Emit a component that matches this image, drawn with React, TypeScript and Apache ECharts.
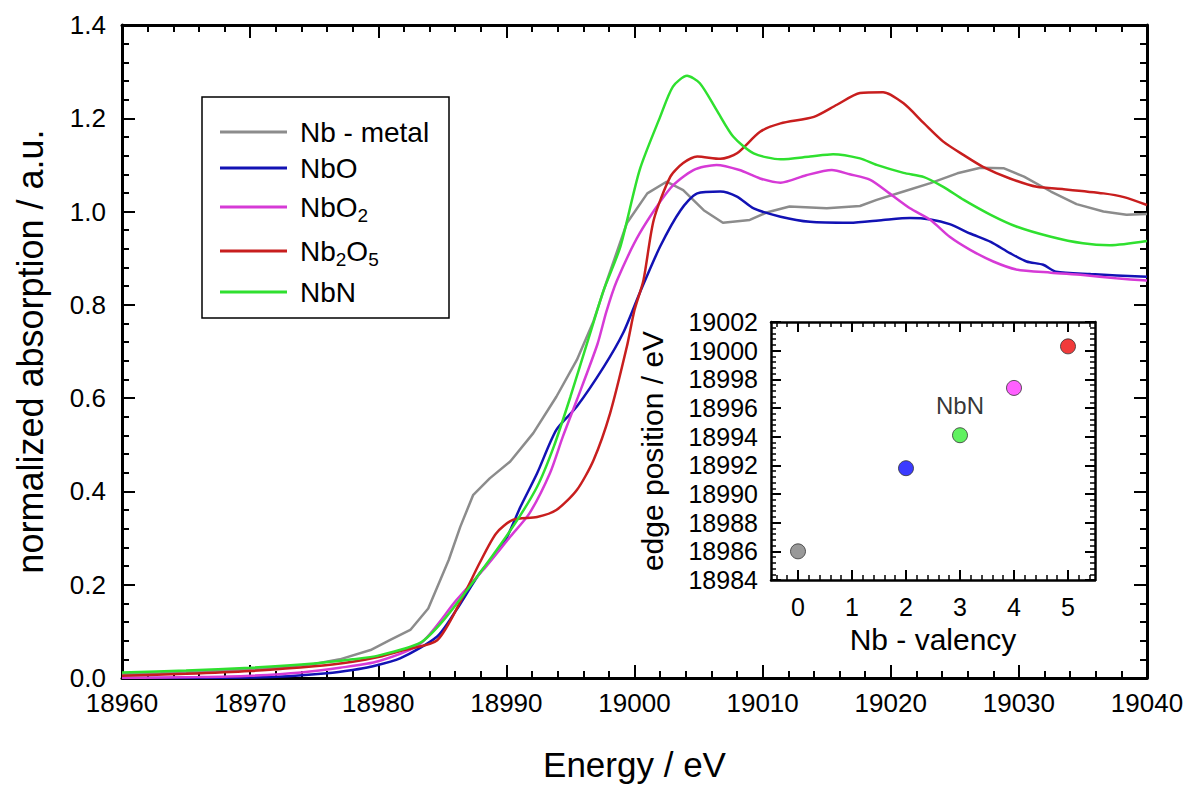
import React, { useEffect, useRef } from "react";
import * as echarts from "echarts";

const FONT = "'Liberation Sans', Arial, Helvetica, sans-serif";

// ---- main chart data ----
const seriesNames = ["Nb - metal", "NbO", "NbO2", "Nb2O5", "NbN"];
const legendLabels = ["Nb - metal", "NbO", "NbO{s|2}", "Nb{s|2}O{s|5}", "NbN"];
const seriesColors = ["#8c8c8c", "#1212b4", "#d63ad6", "#c81e1e", "#2fe02f"];

const metalE = [18960, 18963, 18966, 18969, 18972, 18975, 18977, 18979.4, 18980.9, 18982.5, 18983.9, 18985.5, 18986.4, 18987.4, 18988.7, 18990.3, 18992.1, 18993.9, 18995.5, 18996.8, 18997.8, 18999.4, 19001.0, 19002.5, 19003.8, 19005.4, 19006.9, 19009.0, 19010.3, 19012.1, 19015.0, 19017.6, 19018.9, 19021.0, 19023.1, 19025.2, 19027.0, 19028.8, 19030.4, 19032.5, 19034.5, 19036.6, 19038.4, 19040];
const metalV = [0.008, 0.010, 0.013, 0.017, 0.022, 0.030, 0.040, 0.060, 0.081, 0.103, 0.149, 0.253, 0.324, 0.392, 0.428, 0.464, 0.525, 0.603, 0.682, 0.765, 0.848, 0.975, 1.039, 1.064, 1.046, 1.003, 0.976, 0.982, 0.998, 1.011, 1.007, 1.012, 1.025, 1.043, 1.061, 1.082, 1.094, 1.093, 1.075, 1.043, 1.016, 1.000, 0.993, 0.995];

const nboE = [18960, 18966, 18970, 18973, 18976, 18978, 18979.4, 18981.7, 18984.6, 18986.1, 18987.9, 18989.8, 18991.1, 18992.4, 18993.9, 18995.5, 18997.6, 18999.1, 19000.4, 19002.0, 19003.6, 19004.9, 19006.7, 19008.0, 19009.3, 19011.4, 19013.7, 19016.8, 19019.4, 19021.5, 19023.1, 19024.6, 19026.2, 19027.8, 19029.3, 19030.6, 19031.9, 19032.9, 19035.6, 19040];
const nboV = [0.0, 0.0, 0.001, 0.004, 0.010, 0.017, 0.024, 0.042, 0.089, 0.146, 0.224, 0.289, 0.367, 0.439, 0.532, 0.582, 0.667, 0.739, 0.825, 0.925, 1.003, 1.039, 1.043, 1.032, 1.007, 0.989, 0.978, 0.976, 0.982, 0.986, 0.983, 0.973, 0.953, 0.935, 0.911, 0.893, 0.886, 0.871, 0.866, 0.860];

const nbo2E = [18960, 18966, 18970, 18974, 18977, 18980, 18983.3, 18986.1, 18988.2, 18990.3, 18991.8, 18993.4, 18994.4, 18995.5, 18997.1, 18997.8, 18998.6, 19000.4, 19002.8, 19004.6, 19006.4, 19008.2, 19009.8, 19011.4, 19013.4, 19015.4, 19016.8, 19018.4, 19019.9, 19021.5, 19023.1, 19024.6, 19026.2, 19028.0, 19029.8, 19032.5, 19035.0, 19037.6, 19040];
const nbo2V = [0.0, 0.002, 0.005, 0.012, 0.022, 0.036, 0.074, 0.167, 0.232, 0.303, 0.353, 0.439, 0.517, 0.596, 0.715, 0.785, 0.850, 0.953, 1.050, 1.089, 1.100, 1.089, 1.071, 1.062, 1.078, 1.089, 1.080, 1.068, 1.039, 1.007, 0.982, 0.946, 0.918, 0.893, 0.876, 0.869, 0.864, 0.857, 0.852];

const nb2o5E = [18960, 18965, 18970, 18975, 18978, 18980, 18982, 18984.6, 18986.6, 18987.9, 18989.2, 18990.5, 18992.4, 18993.9, 18995.5, 18996.8, 18998.1, 18999.4, 19000.0, 19000.7, 19001.5, 19002.8, 19003.8, 19004.9, 19006.7, 19008.0, 19009.8, 19011.4, 19014.0, 19015.8, 19017.6, 19019.4, 19021.0, 19022.6, 19024.1, 19025.7, 19027.2, 19029.3, 19031.4, 19033.5, 19036.6, 19038.2, 19040];
const nb2o5V = [0.005, 0.009, 0.015, 0.025, 0.035, 0.045, 0.060, 0.081, 0.174, 0.246, 0.310, 0.339, 0.345, 0.360, 0.403, 0.467, 0.568, 0.710, 0.789, 0.853, 0.982, 1.075, 1.104, 1.118, 1.113, 1.125, 1.171, 1.189, 1.203, 1.229, 1.254, 1.256, 1.232, 1.189, 1.150, 1.121, 1.096, 1.071, 1.053, 1.048, 1.039, 1.031, 1.014];

const nbnE = [18960, 18965, 18970, 18975, 18978, 18980, 18983.3, 18985.1, 18987.9, 18990.5, 18992.4, 18993.7, 18995.0, 18996.3, 18997.1, 18997.6, 18998.9, 19000.4, 19002.0, 19003.0, 19004.1, 19005.1, 19006.4, 19007.7, 19009.3, 19011.4, 19013.7, 19015.5, 19017.6, 19018.9, 19021.0, 19022.6, 19024.1, 19025.7, 19027.8, 19029.8, 19032.5, 19035.0, 19037.1, 19040];
const nbnV = [0.012, 0.016, 0.022, 0.031, 0.040, 0.048, 0.076, 0.124, 0.224, 0.324, 0.410, 0.496, 0.603, 0.718, 0.789, 0.832, 0.925, 1.089, 1.203, 1.268, 1.291, 1.275, 1.218, 1.161, 1.125, 1.112, 1.118, 1.123, 1.114, 1.100, 1.083, 1.074, 1.053, 1.025, 0.993, 0.968, 0.946, 0.932, 0.928, 0.937];

const energies = [metalE, nboE, nbo2E, nb2o5E, nbnE];
const absorptions = [metalV, nboV, nbo2V, nb2o5V, nbnV];

// ---- inset data ----
const valency = [0, 2, 3, 4, 5];
const edgePosition = [18986.0, 18991.8, 18994.1, 18997.4, 19000.3];
const pointColors = ["#808080", "#0a0aff", "#38ee38", "#ff38ff", "#ee0a0a"];
const pointLabels = ["", "", "NbN", "", ""];
const valencyTicks = [0, 1, 2, 3, 4, 5];
const valencyMinorTicks = [-0.4, -0.2, 0.2, 0.4, 0.6, 0.8, 1.2, 1.4, 1.6, 1.8, 2.2, 2.4, 2.6, 2.8, 3.2, 3.4, 3.6, 3.8, 4.2, 4.4, 4.6, 4.8, 5.2, 5.4];

// legend row positions (layout)
const legendRowY = [132, 168, 207, 251, 292];

const BLACK = "#000";

function baseAxis(extra: any) {
  return {
    type: "value",
    splitLine: { show: false },
    axisLine: { show: true, onZero: false, lineStyle: { color: BLACK, width: 3 } },
    ...extra,
  };
}

export default function App() {
  const ref = useRef<HTMLDivElement>(null);
  useEffect(() => {
    if (!ref.current) return;
    const chart = echarts.init(ref.current, null, { renderer: "svg" });

    const mainTick = { show: true, inside: true, length: 13, lineStyle: { color: BLACK, width: 2 } };
    const mainMinor = { show: true, splitNumber: 5, length: 7, lineStyle: { color: BLACK, width: 2 } };
    const insetTick = { show: true, inside: true, length: 10, lineStyle: { color: BLACK, width: 2 } };
    const insetMinor = { show: true, splitNumber: 5, length: 5, lineStyle: { color: BLACK, width: 1.5 } };

    const xAxis = [
      baseAxis({
        gridIndex: 0, position: "bottom", min: 18960, max: 19040, interval: 10,
        axisTick: mainTick, minorTick: mainMinor,
        axisLabel: { show: true, fontSize: 26, color: BLACK, fontFamily: FONT, margin: 12, formatter: (v: number) => String(v) },
        name: "Energy / eV", nameLocation: "middle", nameGap: 69,
        nameTextStyle: { fontSize: 35, color: BLACK, fontFamily: FONT },
      }),
      baseAxis({
        gridIndex: 0, position: "top", min: 18960, max: 19040, interval: 10,
        axisTick: mainTick, minorTick: mainMinor, axisLabel: { show: false },
      }),
      baseAxis({
        gridIndex: 1, position: "bottom", min: -0.5, max: 5.5,
        axisLine: { show: true, onZero: false, lineStyle: { color: BLACK, width: 2.5 } },
        axisTick: { ...insetTick, customValues: valencyTicks },
        axisLabel: { show: true, customValues: valencyTicks, fontSize: 25, color: BLACK, fontFamily: FONT, margin: 14, formatter: (v: number) => String(v) },
        name: "Nb - valency", nameLocation: "middle", nameGap: 44,
        nameTextStyle: { fontSize: 30, color: BLACK, fontFamily: FONT },
      }),
      baseAxis({
        gridIndex: 1, position: "bottom", min: -0.5, max: 5.5,
        axisLine: { show: false, onZero: false },
        axisTick: { show: true, inside: true, length: 5, lineStyle: { color: BLACK, width: 1.5 }, customValues: valencyMinorTicks },
        axisLabel: { show: false },
      }),
      baseAxis({
        gridIndex: 1, position: "top", min: -0.5, max: 5.5,
        axisLine: { show: true, onZero: false, lineStyle: { color: BLACK, width: 2.5 } },
        axisTick: { ...insetTick, customValues: valencyTicks },
        axisLabel: { show: false },
      }),
      baseAxis({
        gridIndex: 1, position: "top", min: -0.5, max: 5.5,
        axisLine: { show: false, onZero: false },
        axisTick: { show: true, inside: true, length: 5, lineStyle: { color: BLACK, width: 1.5 }, customValues: valencyMinorTicks },
        axisLabel: { show: false },
      }),
    ];

    const yAxis = [
      baseAxis({
        gridIndex: 0, position: "left", min: 0, max: 1.4, interval: 0.2,
        axisTick: mainTick, minorTick: mainMinor,
        axisLabel: { show: true, fontSize: 26, color: BLACK, fontFamily: FONT, margin: 16, formatter: (v: number) => v.toFixed(1) },
        name: "normalized absorption / a.u.", nameLocation: "middle", nameGap: 74,
        nameTextStyle: { fontSize: 36, color: BLACK, fontFamily: FONT },
      }),
      baseAxis({
        gridIndex: 0, position: "right", min: 0, max: 1.4, interval: 0.2,
        axisTick: mainTick, minorTick: mainMinor, axisLabel: { show: false },
      }),
      baseAxis({
        gridIndex: 1, position: "left", min: 18984, max: 19002, interval: 2,
        axisLine: { show: true, onZero: false, lineStyle: { color: BLACK, width: 2.5 } },
        axisTick: insetTick, minorTick: insetMinor,
        axisLabel: { show: true, fontSize: 25, color: BLACK, fontFamily: FONT, margin: 13, formatter: (v: number) => String(v) },
        name: "edge position / eV", nameLocation: "middle", nameGap: 104,
        nameTextStyle: { fontSize: 30, color: BLACK, fontFamily: FONT },
      }),
      baseAxis({
        gridIndex: 1, position: "right", min: 18984, max: 19002, interval: 2,
        axisLine: { show: true, onZero: false, lineStyle: { color: BLACK, width: 2.5 } },
        axisTick: insetTick, minorTick: insetMinor, axisLabel: { show: false },
      }),
    ];

    const lineSeries = seriesNames.map((name, i) => ({
      name,
      type: "line",
      xAxisIndex: 0,
      yAxisIndex: 0,
      data: energies[i].map((e, j) => [e, absorptions[i][j]]),
      showSymbol: false,
      symbol: "none",
      smooth: i === 0 ? false : 0.25,
      lineStyle: { color: seriesColors[i], width: 2.5 },
      z: 2,
    }));

    const scatter = {
      name: "edge",
      type: "scatter",
      xAxisIndex: 2,
      yAxisIndex: 2,
      symbolSize: 15,
      data: valency.map((v, i) => ({
        value: [v, edgePosition[i]],
        itemStyle: { color: pointColors[i], borderColor: "#333", borderWidth: 1 },
        label: pointLabels[i]
          ? { show: true, position: "top", distance: 10, formatter: pointLabels[i], fontSize: 24, color: BLACK, fontFamily: FONT }
          : { show: false },
      })),
      z: 5,
    };

    const legendGraphics: any[] = [
      {
        type: "rect", z: 100,
        shape: { x: 202, y: 97, width: 247, height: 221 },
        style: { fill: "#fff", stroke: BLACK, lineWidth: 1.5 },
      },
    ];
    seriesNames.forEach((_, i) => {
      legendGraphics.push({
        type: "line", z: 101,
        shape: { x1: 220, y1: legendRowY[i], x2: 287, y2: legendRowY[i] },
        style: { stroke: seriesColors[i], lineWidth: 3 },
      });
      legendGraphics.push({
        type: "text", z: 101, x: 300, y: legendRowY[i],
        style: {
          text: legendLabels[i],
          fontSize: 28, fontFamily: FONT, fill: BLACK,
          verticalAlign: "middle", align: "left",
          rich: { s: { fontSize: 19, fontFamily: FONT, fill: BLACK, padding: [16, 0, 0, 0] } },
        },
      });
    });

    chart.setOption({
      animation: false,
      backgroundColor: "#fff",
      grid: [
        { left: 122, top: 25, width: 1025, height: 653, containLabel: false },
        { left: 771, top: 322, width: 324, height: 258, containLabel: false },
      ],
      xAxis,
      yAxis,
      series: [...lineSeries, scatter],
      graphic: legendGraphics,
    });

    return () => chart.dispose();
  }, []);

  return (
    <div
      ref={ref}
      style={{ position: "absolute", left: 0, top: 0, width: 1189, height: 788, background: "#fff" }}
    />
  );
}
